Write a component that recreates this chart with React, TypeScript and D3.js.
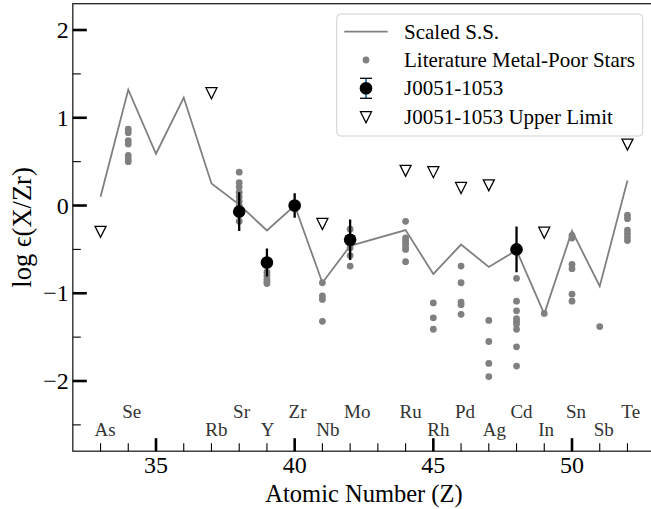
import React from "react";
import * as d3 from "d3";

// Scaled solar-system r-process pattern (log eps(X/Zr))
const ssZ = [33, 34, 35, 36, 37, 38, 39, 40, 41, 42, 44, 45, 46, 47, 48, 49, 50, 51, 52];
const ssVal = [0.10, 1.32, 0.59, 1.23, 0.25, 0.01, -0.285, 0.0, -0.88, -0.46, -0.28, -0.78, -0.445, -0.70, -0.51, -1.235, -0.29, -0.92, 0.285];

// Literature metal-poor star abundances, grouped by element
const litZ = [34, 38, 39, 41, 42, 44, 45, 46, 47, 48, 49, 50, 51, 52];
const litValues = [
  [0.87, 0.83, 0.74, 0.70, 0.57, 0.53, 0.50],
  [0.38, 0.26, 0.21, 0.15, 0.10, 0.05, 0.0, -0.10, -0.18],
  [-0.76, -0.80, -0.84, -0.87, -0.89],
  [-0.88, -1.03, -1.07, -1.32],
  [-0.27, -0.48, -0.57, -0.69],
  [-0.18, -0.37, -0.40, -0.43, -0.47, -0.50, -0.64],
  [-1.11, -1.28, -1.41],
  [-0.69, -0.88, -1.10, -1.13, -1.24],
  [-1.31, -1.55, -1.80, -1.95],
  [-0.83, -1.09, -1.20, -1.29, -1.32, -1.35, -1.41, -1.61, -1.83],
  [-1.23],
  [-0.34, -0.37, -0.67, -0.72, -1.01, -1.09],
  [-1.38],
  [-0.11, -0.15, -0.28, -0.32, -0.36, -0.40],
];

// J0051-1053 measurements
const detZ = [38, 39, 40, 42, 48];
const detVal = [-0.07, -0.65, 0.0, -0.39, -0.50];
const detErr = [0.22, 0.16, 0.14, 0.23, 0.26];

// J0051-1053 upper limits
const ulZ = [33, 37, 41, 44, 45, 46, 47, 49, 52];
const ulVal = [-0.30, 1.28, -0.21, 0.395, 0.38, 0.20, 0.23, -0.31, 0.695];

// Element symbols along the bottom
const elemZ = [33, 34, 37, 38, 39, 40, 41, 42, 44, 45, 46, 47, 48, 49, 50, 51, 52];
const elemSym = ["As", "Se", "Rb", "Sr", "Y", "Zr", "Nb", "Mo", "Ru", "Rh", "Pd", "Ag", "Cd", "In", "Sn", "Sb", "Te"];

const xMajor = [35, 40, 45, 50];
const yMajor = [-2, -1, 0, 1, 2];

const legendLabels = ["Scaled S.S.", "Literature Metal-Poor Stars", "J0051-1053", "J0051-1053 Upper Limit"];

const W = 651;
const H = 509;
const FONT = '"Liberation Serif", "DejaVu Serif", serif';
const GRAY = "#808080";

export default function App() {
  const x = d3.scaleLinear().domain([32, 53]).range([72.8, 655.2]);
  const y = d3.scaleLinear().domain([-2.8, 2.3]).range([451.2, 3.7]);

  const x0 = x.range()[0];
  const x1 = x.range()[1];
  const yTop = y.range()[1];
  const yBot = y.range()[0];

  const line = d3
    .line<number>()
    .x((_, i) => x(ssZ[i]))
    .y((v) => y(v));

  const xMinor = d3.range(33, 53).filter((v) => v % 5 !== 0);
  const yMinor = d3.range(-2.5, 2.3, 1);

  const tri = (cx: number, cy: number, s = 5.5) =>
    `M${cx - s},${cy - s}L${cx + s},${cy - s}L${cx},${cy + s}Z`;

  const fmt = (v: number) => (v < 0 ? `\u2212${Math.abs(v)}` : `${v}`);

  // legend layout
  const lgX = 336.7;
  const lgY = 14;
  const lgW = 306;
  const lgH = 122;
  const rowY = [31.7, 60, 88.3, 117.2];
  const hx = 366;
  const tx = 404;

  return (
    <svg
      width={W}
      height={H}
      style={{ position: "absolute", left: 0, top: 0, display: "block", background: "#fff", fontFamily: FONT }}
    >
      <defs>
        <clipPath id="plotArea">
          <rect x={x0} y={yTop} width={x1 - x0} height={yBot - yTop} />
        </clipPath>
      </defs>

      <g clipPath="url(#plotArea)">
        {/* scaled solar pattern */}
        <path d={line(ssVal) || ""} fill="none" stroke={GRAY} strokeWidth={1.8} />

        {/* literature stars */}
        {litZ.map((z, i) =>
          litValues[i].map((v, j) => (
            <circle key={`l${i}-${j}`} cx={x(z)} cy={y(v)} r={3.4} fill={GRAY} />
          ))
        )}

        {/* measurements with error bars */}
        {detZ.map((z, i) => (
          <g key={`d${i}`}>
            <line
              x1={x(z)}
              x2={x(z)}
              y1={y(detVal[i] + detErr[i])}
              y2={y(detVal[i] - detErr[i])}
              stroke="#000"
              strokeWidth={2.3}
            />
            <circle cx={x(z)} cy={y(detVal[i])} r={6.3} fill="#000" />
          </g>
        ))}

        {/* upper limits */}
        {ulZ.map((z, i) => (
          <path key={`u${i}`} d={tri(x(z), y(ulVal[i]))} fill="none" stroke="#000" strokeWidth={1.3} />
        ))}
      </g>

      {/* element labels */}
      {elemZ.map((z, i) => (
        <text
          key={`e${i}`}
          x={x(z - 0.22)}
          y={y(z % 2 === 0 ? -2.35 : -2.55)}
          dominantBaseline="central"
          fontSize={19}
          fill="#333"
        >
          {elemSym[i]}
        </text>
      ))}

      {/* frame */}
      <rect x={x0} y={yTop} width={x1 - x0} height={yBot - yTop} fill="none" stroke="#222" strokeWidth={1.3} />

      {/* x ticks */}
      {xMajor.map((v) => (
        <g key={`xt${v}`}>
          <line x1={x(v)} x2={x(v)} y1={yBot} y2={yBot - 13} stroke="#000" strokeWidth={2.6} />
          <text x={x(v)} y={yBot + 14} textAnchor="middle" dominantBaseline="central" fontSize={24} fill="#000">
            {v}
          </text>
        </g>
      ))}
      {xMinor.map((v) => (
        <line key={`xm${v}`} x1={x(v)} x2={x(v)} y1={yBot} y2={yBot - 8} stroke="#000" strokeWidth={1.1} />
      ))}

      {/* y ticks */}
      {yMajor.map((v) => (
        <g key={`yt${v}`}>
          <line x1={x0} x2={x0 + 14} y1={y(v)} y2={y(v)} stroke="#000" strokeWidth={2.6} />
          <text x={x0 - 4} y={y(v)} textAnchor="end" dominantBaseline="central" fontSize={24} fill="#000">
            {fmt(v)}
          </text>
        </g>
      ))}
      {yMinor.map((v) => (
        <line key={`ym${v}`} x1={x0} x2={x0 + 8} y1={y(v)} y2={y(v)} stroke="#000" strokeWidth={1.1} />
      ))}

      {/* axis titles */}
      <text x={(x0 + x1) / 2} y={493} textAnchor="middle" dominantBaseline="central" fontSize={24.5} fill="#000">
        Atomic Number (Z)
      </text>
      <text
        transform={`translate(22,${(yTop + yBot) / 2}) rotate(-90)`}
        textAnchor="middle"
        dominantBaseline="central"
        fontSize={26.5}
        fill="#000"
      >
        log {"\u03F5"}(X/Zr)
      </text>

      {/* legend */}
      <g>
        <rect x={lgX} y={lgY} width={lgW} height={lgH} rx={4} fill="#fff" fillOpacity={0.85} stroke="#d0d0d0" strokeWidth={1} />
        <line x1={344.3} x2={387.7} y1={rowY[0]} y2={rowY[0]} stroke={GRAY} strokeWidth={1.8} />
        <circle cx={hx} cy={rowY[1]} r={3.4} fill={GRAY} />
        <line x1={hx} x2={hx} y1={rowY[2] - 10} y2={rowY[2] + 10} stroke="#1f77b4" strokeWidth={1.8} />
        <line x1={hx - 6} x2={hx + 6} y1={rowY[2] - 10} y2={rowY[2] - 10} stroke="#000" strokeWidth={1.3} />
        <line x1={hx - 6} x2={hx + 6} y1={rowY[2] + 10} y2={rowY[2] + 10} stroke="#000" strokeWidth={1.3} />
        <circle cx={hx} cy={rowY[2]} r={6.3} fill="#000" />
        <path d={tri(hx, rowY[3])} fill="none" stroke="#000" strokeWidth={1.3} />
        {legendLabels.map((t, i) => (
          <text key={`lg${i}`} x={tx} y={rowY[i]} dominantBaseline="central" fontSize={21} fill="#000">
            {t}
          </text>
        ))}
      </g>
    </svg>
  );
}
